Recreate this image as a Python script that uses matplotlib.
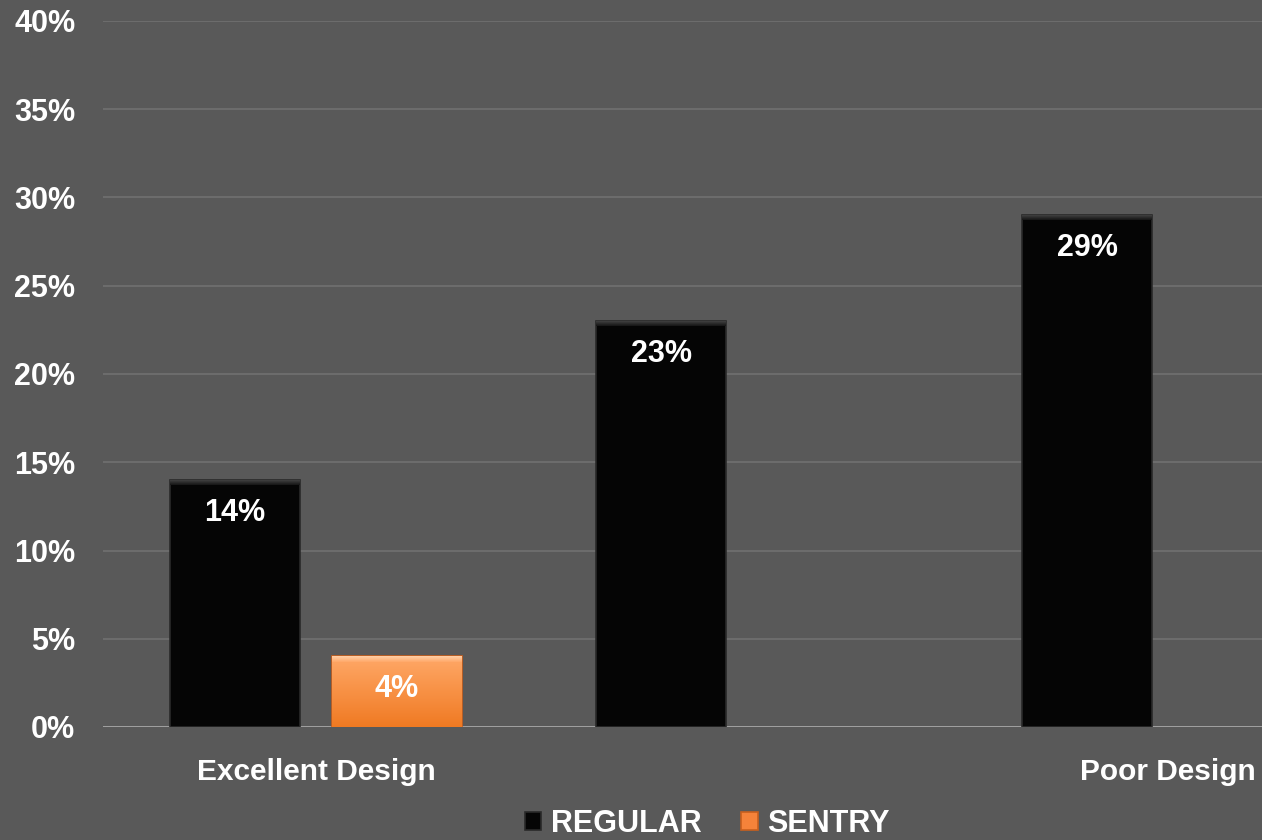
import numpy as np
import matplotlib
matplotlib.use("Agg")
import matplotlib.pyplot as plt
from matplotlib.ticker import FuncFormatter

plt.rcParams['font.family'] = ['Liberation Sans', 'DejaVu Sans']

categories = ["Excellent Design", "", "Poor Design"]
series_names = ["REGULAR", "SENTRY"]
regular = [14, 23, 29]
sentry = [4, np.nan, np.nan]
yticks = [0, 5, 10, 15, 20, 25, 30, 35, 40]

BG = "#595959"
fig = plt.figure(figsize=(12.62, 8.40), dpi=100, facecolor=BG)
ax = fig.add_axes([103/1262, (840-727)/840, (1381-103)/1262, (727-21)/840])
ax.set_facecolor(BG)

x = np.arange(len(categories))
w = 0.305
off = 0.19
colors = ["#050505", "#f5833a"]
edges = ["#2a2a2a", "#c8601e"]

def grad_rect(x0, y0, ww, hh, top_col, bot_col, clip=None, z=3):
    g = np.linspace(0, 1, 100).reshape(-1, 1, 1)
    c1 = np.array(matplotlib.colors.to_rgb(top_col))
    c2 = np.array(matplotlib.colors.to_rgb(bot_col))
    img = c1 * (1 - g) + c2 * g
    img = np.repeat(img, 2, axis=1)
    im = ax.imshow(img, extent=[x0, x0 + ww, y0, y0 + hh], origin='upper',
                   aspect='auto', zorder=z, interpolation='bilinear')
    if clip is not None:
        im.set_clip_path(clip)

handles = []
for i, (vals, name) in enumerate(zip([regular, sentry], series_names)):
    bars = ax.bar(x + (-off if i == 0 else off), vals, w, color=colors[i],
                  edgecolor=edges[i], linewidth=1.2, zorder=3, label=name)
    handles.append(bars)
    for b, v in zip(bars, vals):
        if np.isnan(v):
            continue
        if i == 1:
            grad_rect(b.get_x(), 0, b.get_width(), v, "#ffa868", "#f07a22", clip=b)
            grad_rect(b.get_x(), v - 0.3, b.get_width(), 0.3, "#ffd0a8", "#ffa868", clip=b, z=4)
        else:
            grad_rect(b.get_x(), v - 0.3, b.get_width(), 0.3, "#4a4a4a", "#151515", clip=b, z=4)
        ax.annotate(f"{int(v)}%", (b.get_x() + b.get_width()/2, v),
                    xytext=(0, -33), textcoords='offset pixels',
                    ha='center', va='center', color='white',
                    fontsize=22, fontweight='bold', zorder=5)

ax.set_ylim(0, 40)
ax.set_xlim(-0.5, 2.5)
ax.set_yticks(yticks)
ax.yaxis.set_major_formatter(FuncFormatter(lambda v, p: f"{int(v)}%"))
ax.grid(axis='y', color="#707070", linewidth=1.2, zorder=0)
ax.axhline(0, color="#a6a6a6", linewidth=2, zorder=2)
for s in ax.spines.values():
    s.set_visible(False)
ax.tick_params(axis='y', length=0, colors='white', labelsize=22, pad=20)
ax.tick_params(axis='x', length=0, colors='white', labelsize=21.5, pad=22)
for t in ax.get_yticklabels() + ax.get_xticklabels():
    t.set_fontweight('bold')
ax.set_xticks(x)
ax.set_xticklabels(categories)

leg = fig.legend(handles=handles, labels=series_names, loc='center',
                 bbox_to_anchor=(707/1262, 1 - 824/840), ncol=2, frameon=False,
                 prop={'weight': 'bold', 'size': 22},
                 handlelength=0.55, handleheight=0.55, handletextpad=0.3,
                 columnspacing=1.3, labelcolor='white')

fig.savefig("out.png", dpi=100, facecolor=BG)
